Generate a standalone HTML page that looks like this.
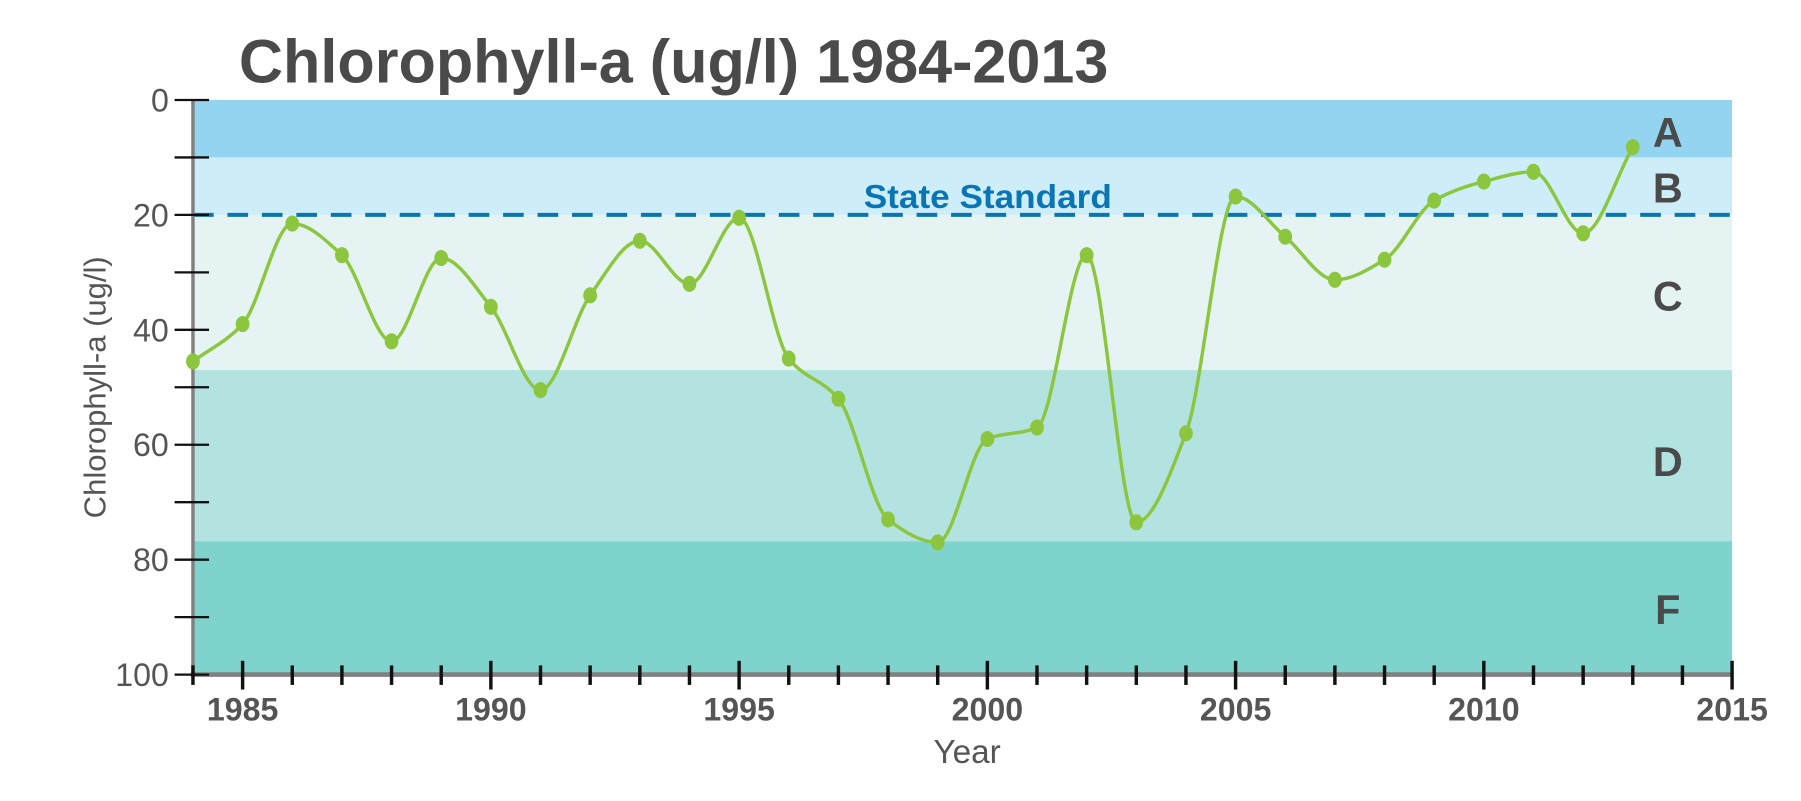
<!DOCTYPE html>
<html><head><meta charset="utf-8"><style>
html,body{margin:0;padding:0;background:#fff;}
svg{display:block;}
text{font-family:"Liberation Sans",sans-serif;}
</style></head><body>
<svg id="s" width="1801" height="801" viewBox="0 0 1568 697" preserveAspectRatio="none" xmlns="http://www.w3.org/2000/svg">
<rect x="168" y="87" width="1340" height="50" fill="#93d5f0"/>
<rect x="168" y="137" width="1340" height="50" fill="#cdeef8"/>
<rect x="168" y="187" width="1340" height="135" fill="#e5f4f3"/>
<rect x="168" y="322" width="1340" height="149" fill="#b2e3e0"/>
<rect x="168" y="471" width="1340" height="116" fill="#7fd3cd"/>
<line x1="168" y1="187" x2="1508" y2="187" stroke="#0a75b5" stroke-width="3.5" stroke-dasharray="18,12"/>
<text x="860" y="181" text-anchor="middle" font-size="29" font-weight="bold" fill="#0a75b5" textLength="216" lengthAdjust="spacingAndGlyphs">State Standard</text>
<text x="208" y="72" font-size="53" font-weight="bold" fill="#4a4a4a" textLength="757" lengthAdjust="spacingAndGlyphs">Chlorophyll-a (ug/l) 1984-2013</text>
<g font-size="36" font-weight="bold" fill="#4a4a4a" text-anchor="middle">
<text x="1452" y="128">A</text><text x="1452" y="176">B</text><text x="1452" y="270">C</text><text x="1452" y="414">D</text><text x="1452" y="543">F</text>
</g>
<g id="ax"></g>
<path id="curve" fill="none" stroke="#8cc63f" stroke-width="3"/>
<g id="pts" fill="#8cc63f"></g>
<text x="842" y="664" text-anchor="middle" font-size="29" fill="#555">Year</text>
<text transform="translate(92,337) rotate(-90)" text-anchor="middle" font-size="27" fill="#555">Chlorophyll-a (ug/l)</text>
</svg>
<script>
var NS="http://www.w3.org/2000/svg";
function el(p,t,a,txt){var e=document.createElementNS(NS,t);for(var k in a)e.setAttribute(k,a[k]);if(txt!=null)e.textContent=txt;p.appendChild(e);return e;}
var ax=document.getElementById('ax');
var X=function(y){return 168+(y-1984)*1340/31;},Y=function(v){return 87+v*5;};
el(ax,'line',{x1:168,y1:87,x2:168,y2:589,stroke:'#808080','stroke-width':3});
el(ax,'line',{x1:166,y1:587,x2:1508,y2:587,stroke:'#808080','stroke-width':4});
for(var v=0;v<=100;v+=10){el(ax,'line',{x1:152,y1:Y(v),x2:182,y2:Y(v),stroke:'#111','stroke-width':2});
if(v%20==0)el(ax,'text',{x:147,y:Y(v)+10,'text-anchor':'end','font-size':28,fill:'#555'},v);}
for(var y=1984;y<=2015;y++){var big=(y%5==0);el(ax,'line',{x1:X(y),y1:big?575:579,x2:X(y),y2:big?600:596,stroke:'#111','stroke-width':3});
if(big)el(ax,'text',{x:X(y),y:627,'text-anchor':'middle','font-size':28,'font-weight':'bold',fill:'#555'},y);}
var d=[45.5,39,21.5,27,42,27.5,36,50.5,34,24.5,32,20.5,45,52,73,77,59,57,27,73.5,58,16.8,23.8,31.3,27.8,17.5,14.2,12.5,23.2,8.2];
var P=d.map(function(v,i){return [X(1984+i),Y(v)];});
var n=P.length,h=P[1][0]-P[0][0],m=[];
for(var i=0;i<n;i++){
 if(i==0)m[i]=(P[1][1]-P[0][1])/h;
 else if(i==n-1)m[i]=(P[n-1][1]-P[n-2][1])/h;
 else{var a=(P[i][1]-P[i-1][1])/h,b=(P[i+1][1]-P[i][1])/h;m[i]=(a*b<=0)?0:2/(1/a+1/b);}
}
var s='M'+P[0][0]+','+P[0][1];
for(var i=0;i<n-1;i++){
 s+=' C'+(P[i][0]+h/3)+','+(P[i][1]+m[i]*h/3)+' '+(P[i+1][0]-h/3)+','+(P[i+1][1]-m[i+1]*h/3)+' '+P[i+1][0]+','+P[i+1][1];
}
document.getElementById('curve').setAttribute('d',s);
var g=document.getElementById('pts');P.forEach(function(p){el(g,'ellipse',{cx:p[0],cy:p[1],rx:6,ry:7});});
</script>
</body></html>
